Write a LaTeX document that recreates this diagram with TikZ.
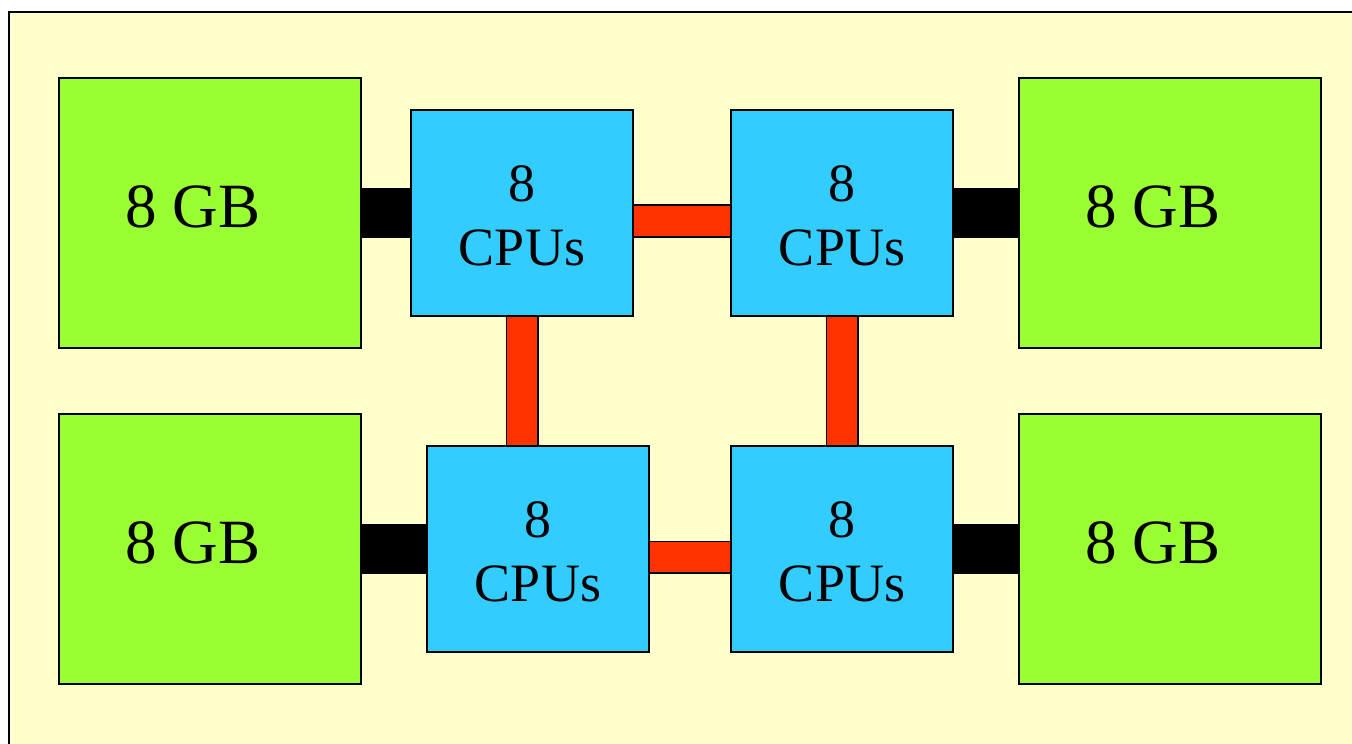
\documentclass[tikz,border=0pt]{standalone}
\usepackage{fontspec}
\setmainfont{Liberation Serif}
\usetikzlibrary{calc}
\definecolor{paper}{HTML}{FFFFCC}
\definecolor{memgreen}{HTML}{99FF33}
\definecolor{cpublue}{HTML}{33CCFF}
\definecolor{linkred}{HTML}{FF3300}
\tikzset{
  mem/.style={draw=black,line width=1pt,fill=memgreen,minimum width=151pt,minimum height=135pt,inner sep=0pt},
  memtxt/.style={font=\fontsize{31.5}{36}\selectfont,xshift=-8.5pt,yshift=3pt},
  cpu/.style={draw=black,line width=1pt,fill=cpublue,minimum width=111pt,minimum height=103pt,inner sep=0pt},
  cputxt/.style={align=center,font=\fontsize{27}{32}\selectfont,yshift=-1.5pt},
  membus/.style={black,line width=25pt},
  link/.style={line width=0.75pt,draw=black,double=linkred,double distance=15pt},
}
\begin{document}
\begin{tikzpicture}[x=0.5pt,y=-0.5pt]
\clip (0,0) rectangle (1352,743);
\fill[paper,draw=black,line width=1pt] (9,12) rectangle (1370,760);
\node[mem,label={[memtxt]center:8 GB}] (m1) at (210,213) {};
\node[mem,label={[memtxt]center:8 GB}] (m2) at (1170,213) {};
\node[mem,label={[memtxt]center:8 GB}] (m3) at (210,549) {};
\node[mem,label={[memtxt]center:8 GB}] (m4) at (1170,549) {};
\node[cpu,label={[cputxt]center:8\\CPUs}] (c1) at (522,213) {};
\node[cpu,label={[cputxt]center:8\\CPUs}] (c2) at (842,213) {};
\node[cpu,label={[cputxt]center:8\\CPUs}] (c3) at (538,549) {};
\node[cpu,label={[cputxt]center:8\\CPUs}] (c4) at (842,549) {};
\foreach \m/\c in {m1/c1,m3/c3} \draw[membus] (\m.east) -- (\c.west);
\foreach \c/\m in {c2/m2,c4/m4} \draw[membus] (\c.east) -- (\m.west);
\draw[link] ([yshift=-4pt]c1.east) -- ([yshift=-4pt]c2.west);
\draw[link] ([yshift=-4pt]c3.east) -- ([yshift=-4pt]c4.west);
\draw[link] (c1.south) -- (c1.south |- c3.north);
\draw[link] (c2.south) -- (c4.north);
\end{tikzpicture}
\end{document}
